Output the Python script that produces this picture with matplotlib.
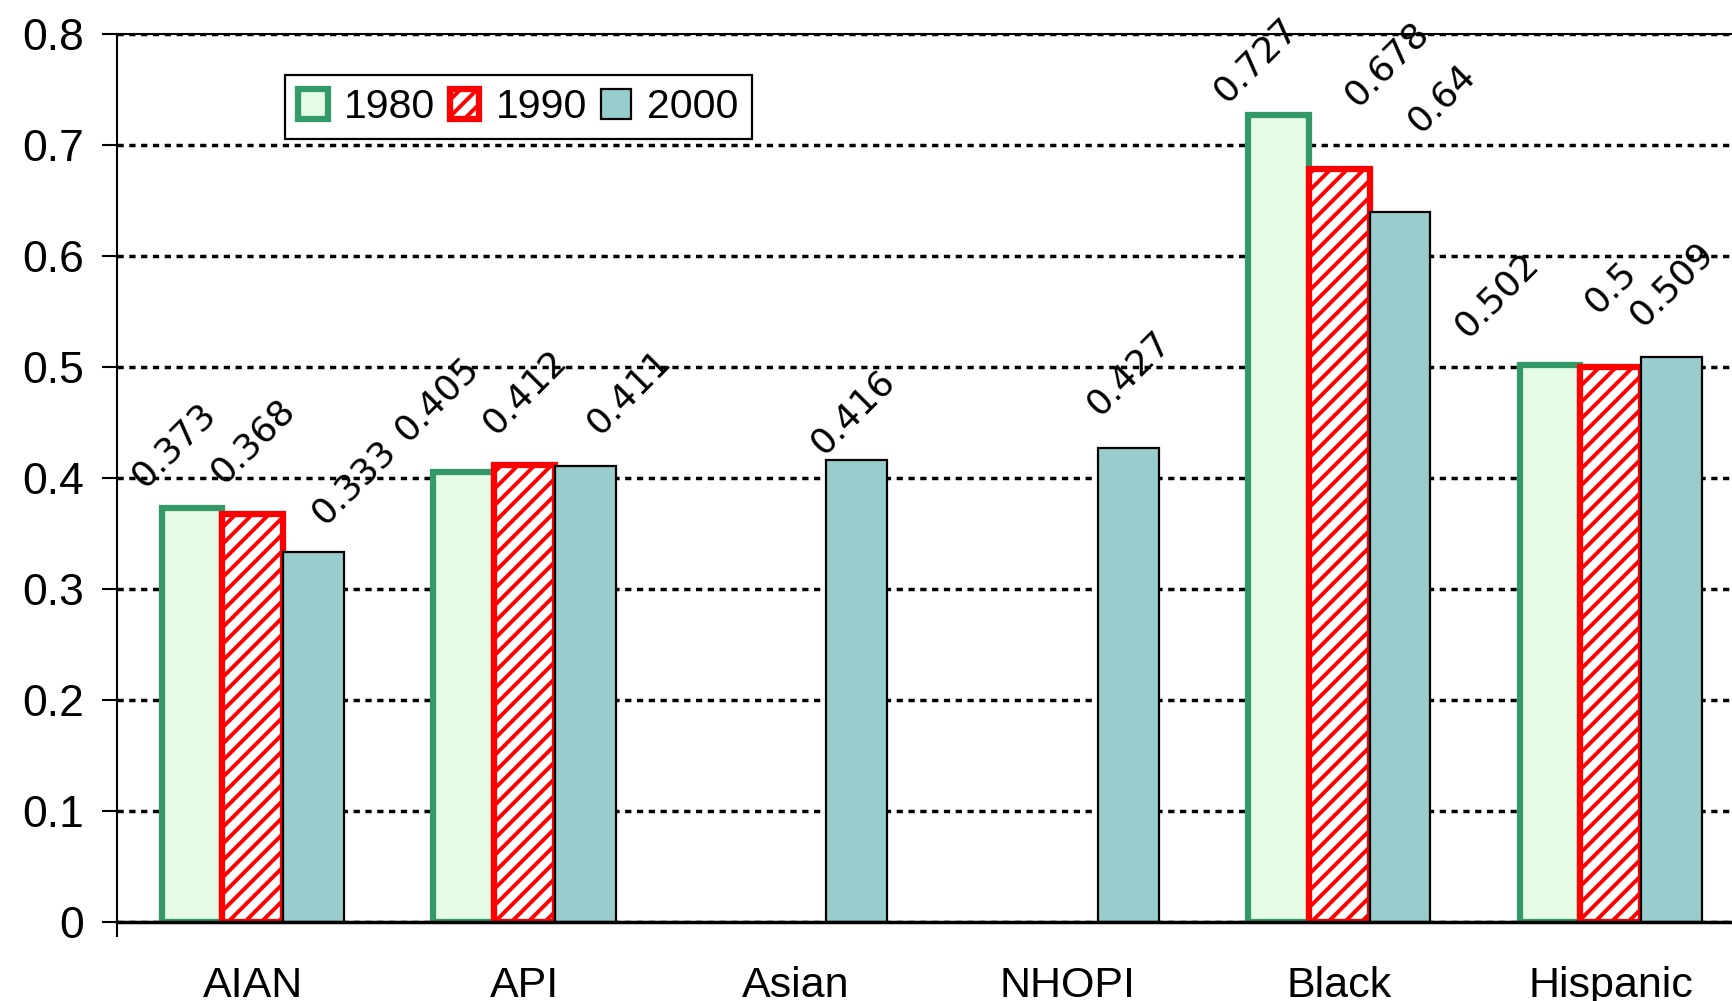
import numpy as np
import matplotlib
matplotlib.use("Agg")
import matplotlib.pyplot as plt
from matplotlib.ticker import FuncFormatter, MultipleLocator
from matplotlib.patches import Patch
from matplotlib.lines import Line2D

# segregation index by group and census year
groups = ["AIAN", "API", "Asian", "NHOPI", "Black", "Hispanic"]
years = ["1980", "1990", "2000"]
v1980 = [0.373, 0.405, np.nan, np.nan, 0.727, 0.502]
v1990 = [0.368, 0.412, np.nan, np.nan, 0.678, 0.5]
v2000 = [0.333, 0.411, 0.416, 0.427, 0.64, 0.509]

# label nudges (pixels) so the rotated numbers don't run into each other
nudge1980 = [(-18, 63), (-27, 73), None, None, (-23, 55), (-53, 70)]
nudge1990 = [(0, 73), (0, 73), None, None, (48, 105), (0, 80)]
nudge2000 = [(40, 70), (44, 74), (-4, 48), (0, 75), (42, 113), (0, 73)]

plt.rcParams['hatch.linewidth'] = 2.8

W, H = 1733, 1001
fig = plt.figure(figsize=(W / 100, H / 100), dpi=100)
ax = fig.add_axes([117 / W, 79 / H, (W - 117) / W, 888 / H])

x = np.arange(len(groups))
bw = 0.224

styles = [
    dict(facecolor="#e6fbe6", edgecolor="#339966", linewidth=4.5, hatch=None),
    dict(facecolor="white", edgecolor="#ff0000", linewidth=4.5, hatch="//"),
    dict(facecolor="#99cccc", edgecolor="black", linewidth=1.6, hatch=None),
]
series = [v1980, v1990, v2000]
nudges = [nudge1980, nudge1990, nudge2000]

for k, (vals, st, nd) in enumerate(zip(series, styles, nudges)):
    xs = x + (k - 1) * bw
    ax.bar(xs, vals, bw, zorder=3, **st)
    for xi, v, off in zip(xs, vals, nd):
        if np.isnan(v):
            continue
        ax.annotate(f"{v:g}", (xi, v), xytext=off, textcoords="offset pixels",
                    rotation=45, ha="center", va="center",
                    fontsize=26, family="DejaVu Sans", color="black", zorder=5)

ax.set_xlim(-0.5, 5.45)
ax.set_ylim(0, 0.8)
ax.yaxis.set_major_locator(MultipleLocator(0.1))
ax.yaxis.set_major_formatter(FuncFormatter(lambda v, p: "0" if abs(v) < 1e-9 else f"{v:.1f}"))

# dotted gridlines
ax.grid(axis="y", color="black", linewidth=2.5, linestyle=(0, (1.8, 1.6)), zorder=1)
ax.set_axisbelow(True)

ax.set_xticks(x)
ax.set_xticklabels(groups, fontsize=31, family="Liberation Sans")
ax.tick_params(axis="x", length=0, pad=32)
ax.tick_params(axis="y", direction="out", length=11, width=1.5, pad=13,
               labelsize=32)
for t in ax.get_yticklabels():
    t.set_family("Liberation Sans")

ax.spines["right"].set_visible(False)
ax.spines["top"].set_linewidth(1.5)
ax.spines["left"].set_linewidth(1.5)
ax.spines["bottom"].set_linewidth(2.5)
ax.spines["bottom"].set_zorder(4)
# left axis line pokes a little below zero
ax.add_line(Line2D([0, 0], [-0.016, 0], transform=ax.transAxes,
                   color="black", linewidth=1.5, clip_on=False))

handles = [Patch(**st) for st in styles]
leg = ax.legend(handles, years, ncol=3, loc="upper left",
                bbox_to_anchor=(0.104, 0.954), borderaxespad=0,
                prop={"family": "Liberation Sans", "size": 29.5},
                handlelength=0.72, handleheight=0.74, handletextpad=0.4,
                columnspacing=0.35, borderpad=0.32,
                fancybox=False, framealpha=1, edgecolor="black")
leg.get_frame().set_linewidth(1.6)
leg.set_zorder(6)

fig.savefig("out.png", dpi=100)
